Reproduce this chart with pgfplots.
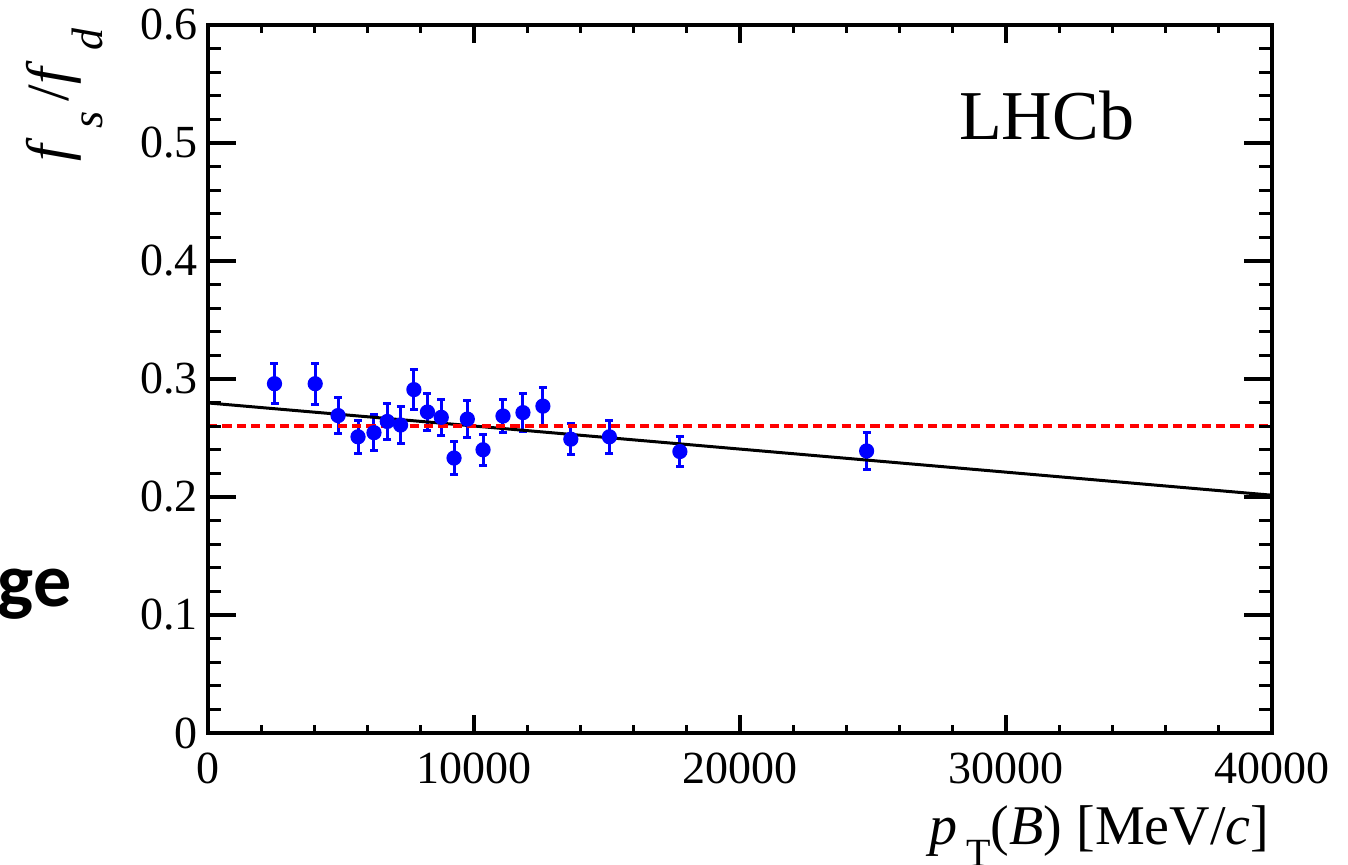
\documentclass[border=0pt]{standalone}
\usepackage{fontspec}
\setmainfont{Liberation Serif}
\newfontfamily\slidefont{Carlito}
\usepackage{pgfplots}
\usepackage{pgfplotstable}
\pgfplotsset{compat=1.18}
\pgfplotstableread{
x y e
2500 0.296 0.017
4030 0.296 0.0175
4890 0.269 0.015
5640 0.251 0.014
6240 0.2545 0.0155
6740 0.264 0.0155
7240 0.261 0.0155
7740 0.291 0.0167
8250 0.272 0.016
8770 0.2675 0.0155
9250 0.233 0.014
9750 0.266 0.016
10340 0.240 0.013
11090 0.2686 0.014
11840 0.2715 0.016
12590 0.277 0.016
13640 0.249 0.013
15090 0.251 0.014
17740 0.2385 0.0127
24760 0.239 0.016
}\datatable
\begin{document}
\begin{tikzpicture}
\useasboundingbox (-52pt,-33pt) rectangle (285pt,183.25pt);
\pgfplotsset{
  common/.style={
    scale only axis, width=266pt, height=177pt,
    xmin=0, xmax=40000, ymin=0, ymax=0.6,
    at={(0pt,0pt)}, anchor=south west,
    axis line style={line width=0.8pt},
    tick style={line width=0.8pt, black},
    tick align=inside, tick pos=both,
    scaled x ticks=false, scaled y ticks=false,
    /pgf/number format/assume math mode=true,
    tick label style={font=\fontsize{11.5}{12}\selectfont},
  }
}
\begin{axis}[common,
  xtick={0,10000,20000,30000,40000},
  minor x tick num=4,
  ytick=\empty,
  major tick length=4.5pt, minor tick length=2pt,
  xticklabel style={/pgf/number format/fixed, /pgf/number format/1000 sep={}},
  xticklabel shift=1.5pt,
  clip=false]
\addplot+[only marks, mark=*, color=blue, mark options={fill=blue, draw=blue}, mark size=1.7pt,
  error bars/.cd, y dir=both, y explicit,
  error bar style={line width=0.75pt, blue},
  error mark options={rotate=90, mark size=1pt, line width=0.75pt, blue}]
  table[x=x, y=y, y error=e] {\datatable};
\addplot[black, line width=0.75pt, no marks] coordinates {(0,0.2797) (40000,0.2015)};
\addplot[red, line width=0.9pt, no marks, dash pattern=on 2.3pt off 1.3pt] coordinates {(0,0.26) (40000,0.26)};
\end{axis}
\begin{axis}[common,
  xtick=\empty,
  ytick={0,0.1,0.2,0.3,0.4,0.5,0.6},
  minor y tick num=4,
  major tick length=7pt, minor tick length=3.25pt,
  yticklabel style={/pgf/number format/fixed, /pgf/number format/precision=1},
  yticklabel shift=-1pt]
\end{axis}
\node[anchor=base west, font=\fontsize{17.5}{18}\selectfont] at (184.25pt,148.25pt) {LHCb};
\node[anchor=base east, inner sep=0pt, font=\fontsize{14}{15}\selectfont] at (265.5pt,-28pt)
  {\textit{p}\,\raisebox{-5.5pt}{\fontsize{10}{11}\selectfont T}(\textit{B}) [MeV/\textit{c}]};
\node[anchor=base east, inner sep=0pt, rotate=90, font=\fontsize{15}{16}\selectfont] at (-34.75pt,176.25pt)
  {\textit{f}\,\raisebox{-0.55em}{\fontsize{11}{12}\selectfont\textit{s}}\,/\textit{f}\,\raisebox{-0.55em}{\fontsize{11}{12}\selectfont\textit{d}}};
\node[anchor=base east, inner sep=0pt, font=\slidefont\bfseries\fontsize{19}{20}\selectfont] at (-34pt,31.5pt) {nge};
\end{tikzpicture}
\end{document}
